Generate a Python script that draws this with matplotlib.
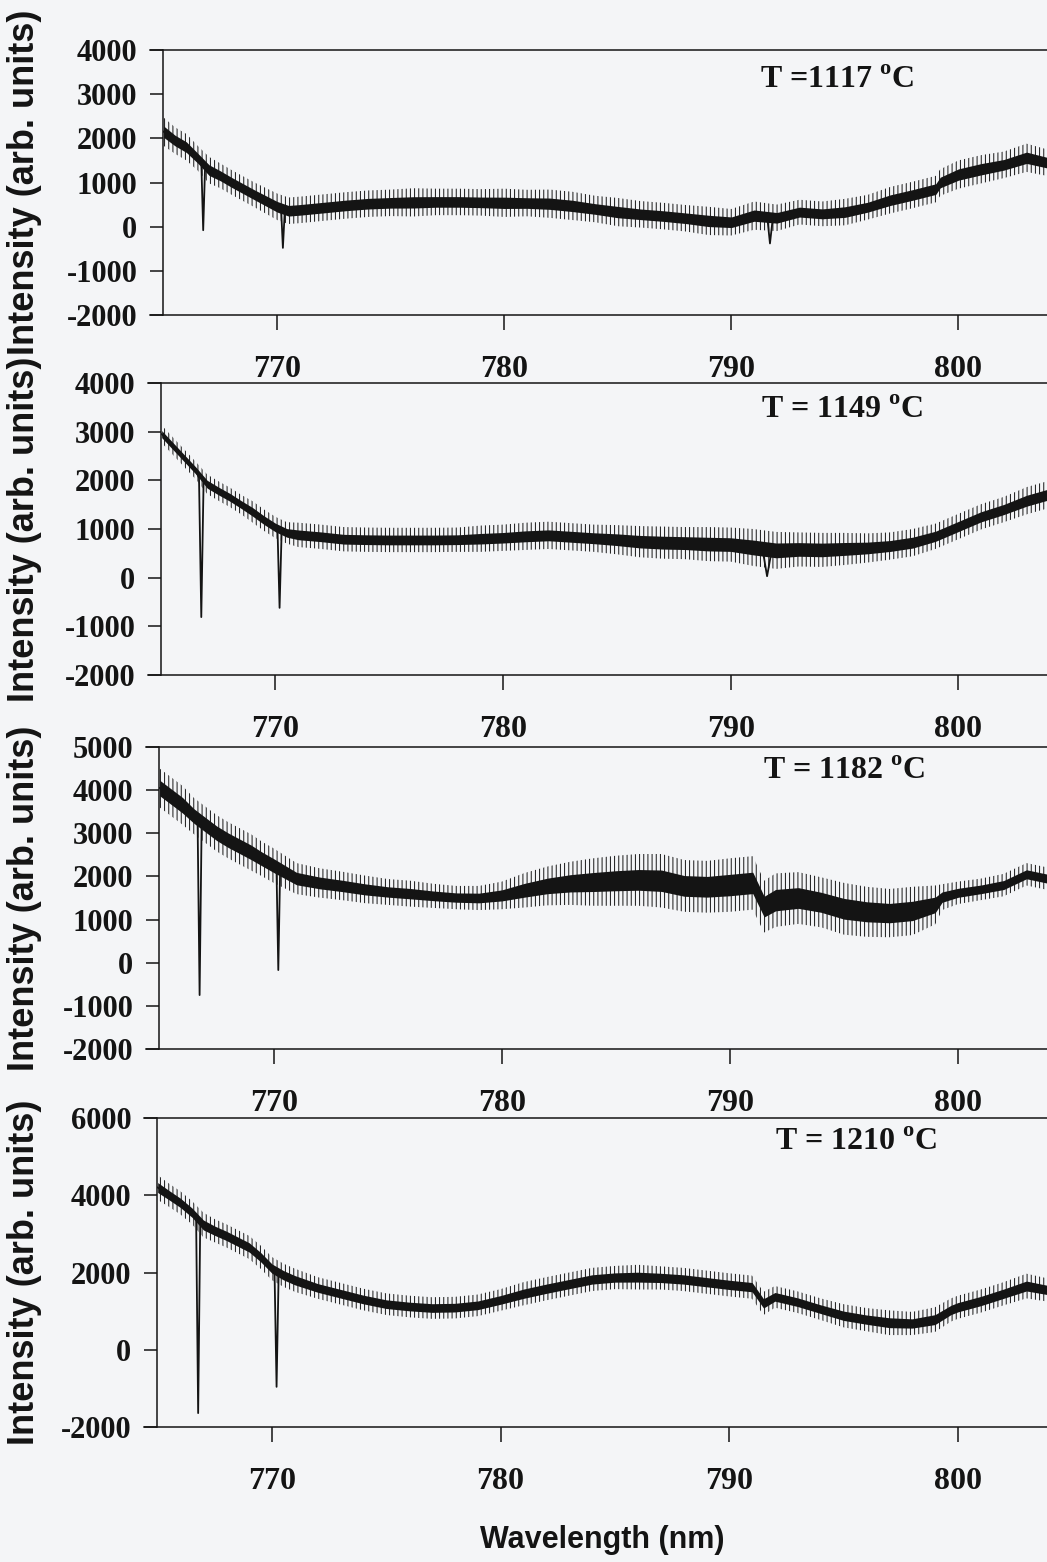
import matplotlib
matplotlib.use('Agg')
import matplotlib.pyplot as plt
import numpy as np

# Espectros: longitud de onda (nm), intensidad central,
# amplitud del ruido y las lineas de absorcion (dips)
wl_1 = [765.0, 765.5, 766.0, 766.5, 767.0, 767.5, 768.0, 769.0, 770.0, 770.5,
        771, 772, 773, 774, 775, 776, 777, 778, 779, 780,
        781, 782, 783, 784, 785, 786, 787, 788, 789, 790,
        791, 792, 793, 794, 795, 796, 797, 798, 799, 799.2,
        800, 801, 802, 803, 803.9]
int_1 = [2150, 1950, 1800, 1550, 1280, 1150, 1000, 720, 450, 360,
         380, 430, 480, 520, 540, 550, 560, 560, 550, 540,
         535, 520, 470, 400, 330, 280, 240, 190, 130, 100,
         250, 200, 330, 290, 330, 440, 600, 720, 850, 1000,
         1180, 1300, 1400, 1560, 1450]
noise_1 = [320, 300, 300, 280, 300, 280, 280, 280, 300, 300,
           300, 300, 300, 300, 300, 320, 300, 300, 300, 320,
           300, 320, 320, 300, 320, 300, 300, 300, 320, 300,
           320, 300, 280, 280, 300, 280, 300, 300, 300, 300,
           320, 320, 300, 320, 300]
dip_wl_1 = [766.66, 766.74, 766.82, 770.17, 770.25, 770.33, 791.6, 791.7, 791.8]
dip_int_1 = [1400, -80, 1300, 420, -480, 330, 120, -380, 80]

wl_2 = [765.0, 765.5, 766.0, 766.5, 767.0, 767.5, 768.0, 768.5, 769.0, 769.5, 770.0, 770.5,
        771, 772, 773, 774, 775, 776, 777, 778, 779, 780,
        781, 782, 783, 784, 785, 786, 787, 788, 789, 790,
        791, 792, 793, 794, 795, 796, 797, 798, 799, 800, 801, 802, 803, 803.9]
int_2 = [2950, 2700, 2450, 2200, 1920, 1780, 1650, 1500, 1350, 1180, 1030, 920,
         880, 840, 790, 780, 775, 775, 775, 780, 800, 820,
         850, 870, 840, 810, 780, 740, 720, 710, 690, 680,
         620, 560, 580, 570, 590, 610, 650, 720, 850, 1050, 1250, 1400, 1580, 1700]
noise_2 = [180, 180, 180, 180, 200, 200, 200, 200, 220, 220, 220, 220,
           250, 250, 250, 250, 250, 250, 250, 250, 270, 270,
           280, 280, 280, 280, 300, 320, 330, 330, 350, 350,
           380, 380, 350, 350, 330, 300, 280, 280, 260, 260, 260, 260, 280, 280]
dip_wl_2 = [766.64, 766.74, 766.84, 770.09, 770.18, 770.27, 791.45, 791.6, 791.75]
dip_int_2 = [2050, -810, 1950, 980, -620, 940, 450, 30, 420]

wl_3 = [765.0, 765.5, 766.0, 766.5, 767.0, 767.5, 768.0, 768.5, 769.0, 769.5, 770.0, 770.5,
        771, 772, 773, 774, 775, 776, 777, 778, 779, 780,
        781, 782, 783, 784, 785, 786, 787, 788, 789, 790,
        791, 791.5, 792, 793, 794, 795, 796, 797, 798, 799, 799.3, 800, 801, 802, 803, 803.9]
int_3 = [4050, 3850, 3650, 3400, 3200, 3000, 2840, 2700, 2560, 2400, 2250, 2100,
         1950, 1850, 1780, 1700, 1640, 1600, 1550, 1510, 1500, 1560,
         1680, 1780, 1840, 1870, 1900, 1920, 1900, 1780, 1760, 1800,
         1850, 1300, 1450, 1500, 1400, 1250, 1180, 1150, 1200, 1340, 1520, 1620, 1700, 1800, 2050, 1950]
noise_3 = [450, 450, 450, 420, 420, 420, 420, 420, 420, 400, 400, 380,
           360, 340, 330, 320, 300, 300, 280, 270, 280, 320,
           400, 450, 500, 550, 580, 600, 620, 600, 600, 620,
           620, 600, 620, 600, 580, 600, 580, 560, 560, 450, 300, 260, 250, 260, 260, 260]
dip_wl_3 = [766.66, 766.75, 766.84, 770.12, 770.2, 770.28]
dip_int_3 = [3350, -750, 3250, 2200, -170, 2150]

wl_4 = [765.0, 765.5, 766.0, 766.5, 767.0, 767.5, 768.0, 768.5, 769.0, 769.5, 770.0, 770.5,
        771, 772, 773, 774, 775, 776, 777, 778, 779, 780,
        781, 782, 783, 784, 785, 786, 787, 788, 789, 790,
        791, 791.5, 792, 793, 794, 795, 796, 797, 798, 799, 799.7, 800, 801, 802, 803, 803.9]
int_4 = [4200, 4000, 3800, 3550, 3230, 3080, 2950, 2800, 2650, 2400, 2100, 1930,
         1800, 1600, 1450, 1300, 1180, 1120, 1080, 1090, 1150, 1290,
         1450, 1580, 1700, 1820, 1870, 1880, 1860, 1820, 1750, 1680,
         1620, 1200, 1370, 1230, 1050, 880, 780, 700, 680, 780, 1030, 1100, 1260, 1450, 1650, 1550]
noise_4 = [320, 300, 300, 300, 320, 300, 300, 300, 300, 300, 300, 300,
           300, 280, 280, 280, 280, 280, 280, 280, 280, 280,
           300, 300, 300, 300, 300, 320, 300, 300, 300, 300,
           300, 300, 280, 280, 280, 300, 300, 320, 300, 320, 300, 300, 300, 300, 320, 300]
dip_wl_4 = [766.68, 766.77, 766.86, 770.11, 770.2, 770.29]
dip_int_4 = [3450, -1640, 3250, 2050, -960, 1950]

titulos = [r'T =1117 $^{\mathbf{o}}$C', r'T = 1149 $^{\mathbf{o}}$C',
           r'T = 1182 $^{\mathbf{o}}$C', r'T = 1210 $^{\mathbf{o}}$C']
y_limites = [(-2000, 4000), (-2000, 4000), (-2000, 5000), (-2000, 6000)]
y_ticks = [np.arange(-2000, 4001, 1000), np.arange(-2000, 4001, 1000),
           np.arange(-2000, 5001, 1000), np.arange(-2000, 6001, 2000)]
x_ticks = [770, 780, 790, 800]

plt.rcParams['font.family'] = 'Liberation Serif'
plt.rcParams['font.weight'] = 'bold'
plt.rcParams['axes.unicode_minus'] = False
plt.rcParams['mathtext.fontset'] = 'custom'
plt.rcParams['mathtext.bf'] = 'Liberation Serif:bold'
plt.rcParams['mathtext.rm'] = 'Liberation Serif:bold'
plt.rcParams['hatch.linewidth'] = 0.7

W, H = 1047, 1562
fondo = '#f4f5f7'
negro = '#141414'
fig = plt.figure(figsize=(W / 100, H / 100), dpi=100, facecolor=fondo)

# posiciones en pixeles de cada panel: izquierda, arriba, abajo
cajas = [(163, 50, 315), (161, 383, 675), (159, 747, 1049), (157, 1118, 1427)]
titulo_pos = [(837, 80), (842, 410), (844, 772), (856, 1143)]

datos = [(wl_1, int_1, noise_1, dip_wl_1, dip_int_1),
         (wl_2, int_2, noise_2, dip_wl_2, dip_int_2),
         (wl_3, int_3, noise_3, dip_wl_3, dip_int_3),
         (wl_4, int_4, noise_4, dip_wl_4, dip_int_4)]

for i in range(4):
    izq, arr, aba = cajas[i]
    ax = fig.add_axes([izq / W, 1 - aba / H, 1 - izq / W, (aba - arr) / H])
    ax.set_facecolor(fondo)
    wl, inten, ruido, dwl, dint = datos[i]
    wl = np.array(wl, dtype=float)
    inten = np.array(inten, dtype=float)
    ruido = np.array(ruido, dtype=float)

    # ruido: picos finos (rayado vertical) y nucleo solido
    ax.fill_between(wl, inten - ruido, inten + ruido, facecolor='none',
                    edgecolor=negro, hatch='||||', linewidth=0)
    ax.fill_between(wl, inten - 0.4 * ruido, inten + 0.4 * ruido,
                    color=negro, linewidth=0)
    x = np.concatenate([wl, np.array(dwl)])
    y = np.concatenate([inten, np.array(dint, dtype=float)])
    orden = np.argsort(x)
    ax.plot(x[orden], y[orden], color=negro, lw=1.3)

    ax.set_xlim(764.97, 803.9)
    ax.set_ylim(*y_limites[i])
    ax.set_yticks(y_ticks[i])
    ax.set_xticks(x_ticks)
    ax.tick_params(axis='y', direction='out', length=9.4, width=1.1, pad=9,
                   labelsize=22, colors=negro)
    ax.tick_params(axis='x', direction='out', length=10.8, width=1.1, pad=18,
                   labelsize=23, colors=negro)
    for s in ['top', 'right', 'bottom']:
        ax.spines[s].set_visible(False)
    ax.spines['left'].set_linewidth(1.1)
    ax.spines['left'].set_color(negro)
    ext = 13.0 / (W - izq)
    ax.plot([-ext, 1], [1, 1], transform=ax.transAxes, clip_on=False, color=negro, lw=1.1)
    ax.plot([-ext, 1], [0, 0], transform=ax.transAxes, clip_on=False, color=negro, lw=1.1)

    fig.text(titulo_pos[i][0] / W, 1 - titulo_pos[i][1] / H, titulos[i],
             ha='center', va='center', fontsize=23, color=negro)
    fig.text(25 / W, 1 - (arr + aba) / 2 / H, 'Intensity (arb. units)', rotation=90,
             ha='center', va='center', family='Liberation Sans', weight='bold',
             fontsize=26, color=negro)

fig.text(602 / W, 1 - 1540 / H, 'Wavelength (nm)', ha='center', va='center',
         family='Liberation Sans', weight='bold', fontsize=22, color=negro)

fig.savefig('out.png', dpi=100, facecolor=fondo)
